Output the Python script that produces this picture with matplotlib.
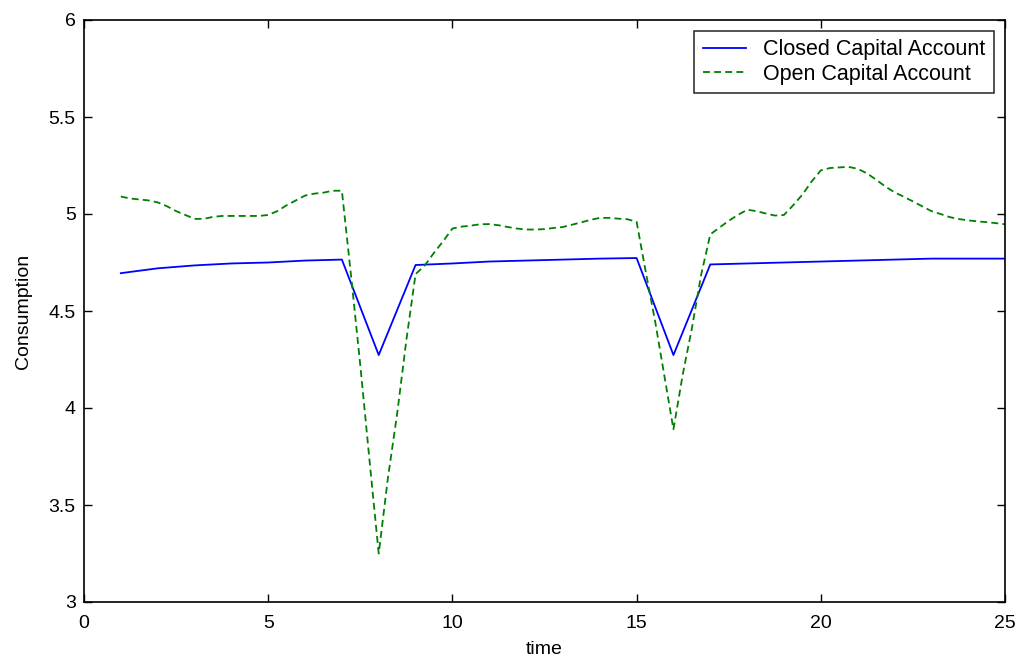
import matplotlib
matplotlib.use("Agg")
import matplotlib.pyplot as plt

plt.rcParams['font.family'] = ['Liberation Sans', 'DejaVu Sans']
plt.rcParams['lines.scale_dashes'] = False

# Closed capital account (integer time steps)
closed_t = list(range(1, 26))
closed_c = [4.695, 4.72, 4.735, 4.745, 4.75, 4.76, 4.765, 4.273, 4.737, 4.745,
            4.755, 4.76, 4.765, 4.77, 4.773, 4.273, 4.74, 4.745, 4.75, 4.755,
            4.76, 4.765, 4.77, 4.77, 4.77]

# Open capital account (read at quarter steps)
open_t = [1 + 0.25 * i for i in range(97)]
open_c = [5.09, 5.08, 5.075, 5.07, 5.06, 5.04, 5.015, 4.995,      # 1.00-2.75
          4.975, 4.975, 4.985, 4.99, 4.99, 4.99, 4.99, 4.99,      # 3.00-4.75
          4.995, 5.015, 5.045, 5.07, 5.095, 5.105, 5.11, 5.12,    # 5.00-6.75
          5.12, 4.68, 4.22, 3.73, 3.25, 3.64, 3.97, 4.35,         # 7.00-8.75
          4.69, 4.735, 4.80, 4.86, 4.925, 4.935, 4.94, 4.947,     # 9.00-10.75
          4.948, 4.942, 4.933, 4.925, 4.92, 4.92, 4.922, 4.928,   # 11.00-12.75
          4.933, 4.945, 4.957, 4.97, 4.98, 4.98, 4.976, 4.973,    # 13.00-14.75
          4.96, 4.70, 4.45, 4.17, 3.89, 4.17, 4.41, 4.685,        # 15.00-16.75
          4.895, 4.93, 4.965, 4.995, 5.022, 5.015, 5.003, 4.992,  # 17.00-18.75
          4.995, 5.045, 5.10, 5.167, 5.225, 5.237, 5.24, 5.243,   # 19.00-20.75
          5.233, 5.21, 5.177, 5.142, 5.112, 5.089, 5.065, 5.04,   # 21.00-22.75
          5.015, 5.0, 4.984, 4.974, 4.967, 4.962, 4.958, 4.953,   # 23.00-24.75
          4.947]                                                  # 25.00

fig = plt.figure(figsize=(10.19, 6.62), dpi=100)
ax = fig.add_axes([84 / 1019, 1 - 602 / 662, (1005 - 84) / 1019, (602 - 20) / 662])

ax.plot(closed_t, closed_c, color='#0000ff', lw=1.3, label='Closed Capital Account')
ax.plot(open_t, open_c, color='#008000', lw=1.3, linestyle=(0, (5, 3)),
        label='Open Capital Account')

ax.set_xlim(0, 25)
ax.set_ylim(3, 6)
ax.set_xticks([0, 5, 10, 15, 20, 25])
ax.set_yticks([3, 3.5, 4, 4.5, 5, 5.5, 6])
ax.set_yticklabels(['3', '3.5', '4', '4.5', '5', '5.5', '6'])
ax.tick_params(direction='in', top=True, right=True, length=6, width=1,
               labelsize=14)
ax.tick_params(axis='x', pad=9)
ax.tick_params(axis='y', pad=6)
for s in ax.spines.values():
    s.set_linewidth(1.2)

ax.set_xlabel('time', fontsize=14, labelpad=7)
ax.set_ylabel('Consumption', fontsize=14, labelpad=12)

leg = ax.legend(loc='upper right', fontsize=15.5, frameon=True, fancybox=False,
                edgecolor='black', handlelength=2.0, handletextpad=0.8,
                borderaxespad=0.5, borderpad=0.4, labelspacing=0.15)
leg.get_frame().set_linewidth(1.2)

fig.savefig('out.png', dpi=100, facecolor='white')
